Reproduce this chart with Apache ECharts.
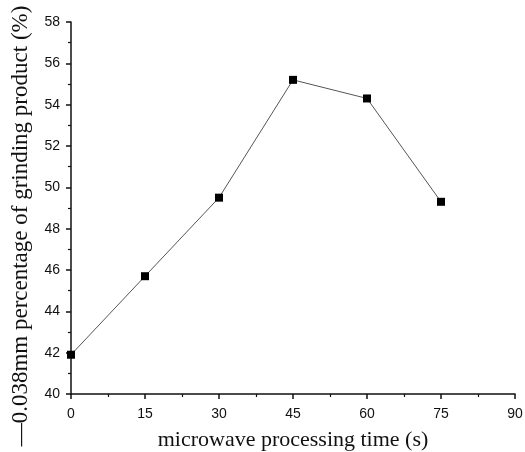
<!DOCTYPE html>
<html>
<head>
<meta charset="utf-8">
<script src="https://cdn.jsdelivr.net/npm/echarts@6/dist/echarts.min.js"></script>
<style>
  html, body { margin: 0; padding: 0; background: #fff; }
  #main { width: 525px; height: 452px; }
</style>
</head>
<body>
<div id="main"></div>
<script>
var times = [0, 15, 30, 45, 60, 75];
var percent = [41.9, 45.7, 49.5, 55.2, 54.3, 49.3];

var myChart = echarts.init(document.getElementById('main'));

var serdata = [];
for (var i = 0; i < times.length; i++) {
    serdata.push([times[i], percent[i]]);
}

var axisCommon = {
    axisLine: { show: true, onZero: false, lineStyle: { color: '#111', width: 1.5 } },
    axisTick: { show: true, inside: false, length: 5, lineStyle: { color: '#111', width: 1.5 } },
    minorTick: { show: true, splitNumber: 2, length: 3, lineStyle: { color: '#111', width: 1.2 } },
    splitLine: { show: false },
    axisLabel: { color: '#111', fontFamily: 'Liberation Sans', fontSize: 14 },
    nameTextStyle: { color: '#111', fontFamily: 'Liberation Serif', fontSize: 22 }
};

var option = {
    animation: false,
    grid: {
        left: 71,
        right: 10,
        top: 22,
        bottom: 58,
        outerBoundsMode: 'none',
        containLabel: false
    },
    xAxis: Object.assign({}, axisCommon, {
        type: 'value',
        min: 0,
        max: 90,
        interval: 15,
        name: 'microwave processing time (s)',
        nameLocation: 'middle',
        nameGap: 35,
        axisLabel: Object.assign({}, axisCommon.axisLabel, { margin: 13 })
    }),
    yAxis: Object.assign({}, axisCommon, {
        type: 'value',
        min: 40,
        max: 58,
        interval: 2,
        name: '\u20140.038mm percentage of grinding product (%)',
        nameLocation: 'middle',
        nameGap: 39,
        nameTextStyle: Object.assign({}, axisCommon.nameTextStyle, { fontSize: 23, padding: [0, 36, 0, 0] }),
        axisLabel: Object.assign({}, axisCommon.axisLabel, { margin: 11 })
    }),
    series: [{
        type: 'line',
        data: serdata,
        symbol: 'rect',
        symbolSize: 8,
        clip: false,
        itemStyle: { color: '#000' },
        lineStyle: { color: '#555', width: 1 }
    }]
};
myChart.setOption(option);
</script>
</body>
</html>
